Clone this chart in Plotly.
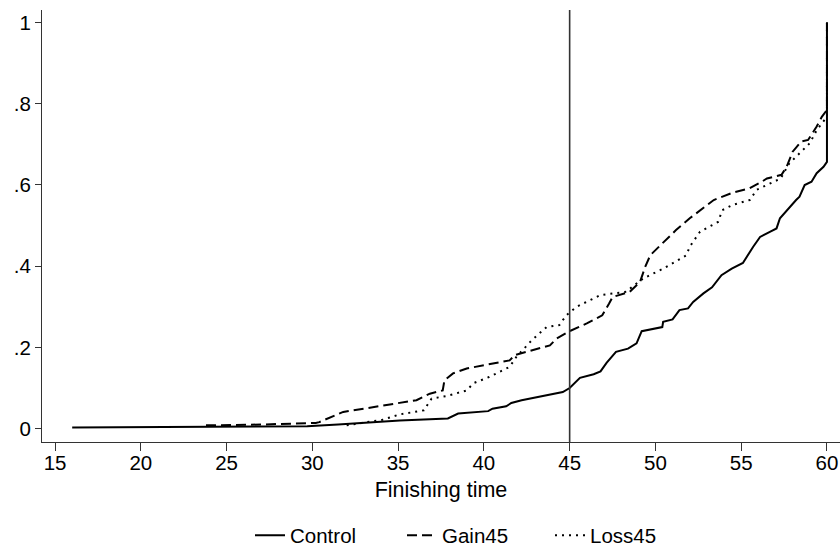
import plotly.graph_objects as go

# Control (solid)
control_x = [16.0, 24.0, 29.7, 31.5, 33.5, 35.1, 37.9, 38.5, 40.25, 40.5, 41.3, 41.6, 42.2, 43.1, 44.6, 45.0,
             45.6, 46.4, 46.8, 47.15, 47.7, 48.4, 48.9, 49.2, 50.4, 50.45, 51.0, 51.4, 51.9, 52.2, 52.8, 53.3,
             53.85, 54.45, 55.1, 55.7, 56.1, 56.7, 57.06, 57.26, 57.74, 58.2, 58.4, 58.7, 59.1, 59.4, 59.8, 60.0, 60.0]
control_y = [0.003, 0.004, 0.006, 0.010, 0.016, 0.020, 0.025, 0.037, 0.043, 0.049, 0.055, 0.063, 0.070, 0.078, 0.090, 0.100,
             0.125, 0.134, 0.141, 0.162, 0.189, 0.197, 0.210, 0.240, 0.250, 0.263, 0.269, 0.292, 0.296, 0.312, 0.333, 0.348,
             0.378, 0.394, 0.408, 0.448, 0.472, 0.485, 0.493, 0.518, 0.542, 0.563, 0.571, 0.600, 0.608, 0.629, 0.645, 0.657, 1.0]

# Gain45 (dashed)
gain_x = [23.8, 27.0, 30.2, 30.4, 31.8, 33.0, 35.1, 36.07, 36.85, 37.6, 37.7, 38.2, 39.0, 40.15, 41.5, 41.8, 42.9, 43.85,
          44.25, 45.0, 46.0, 46.9, 47.3, 47.5, 48.5, 49.1, 49.4, 49.7, 50.4, 51.2, 52.0, 53.2, 53.4, 54.5, 55.5, 56.2,
          56.5, 57.35, 57.65, 58.0, 58.5, 58.9, 59.4, 59.7, 60.0, 60.0]
gain_y = [0.008, 0.010, 0.014, 0.016, 0.041, 0.049, 0.062, 0.070, 0.086, 0.094, 0.119, 0.136, 0.148, 0.158, 0.168, 0.181, 0.193, 0.205,
          0.222, 0.240, 0.259, 0.279, 0.308, 0.324, 0.337, 0.361, 0.398, 0.427, 0.456, 0.489, 0.518, 0.555, 0.563, 0.581, 0.592, 0.608,
          0.616, 0.625, 0.645, 0.682, 0.707, 0.711, 0.744, 0.768, 0.785, 1.0]

# Loss45 (dotted)
loss_x = [32.0, 34.1, 35.1, 36.5, 36.95, 37.8, 39.0, 39.4, 40.3, 41.5, 41.9, 42.8, 43.65, 44.4, 44.8, 45.4, 46.8, 48.3,
          48.7, 49.3, 50.45, 51.8, 52.0, 52.6, 53.65, 53.9, 54.5, 55.5, 55.9, 57.3, 57.8, 58.4, 59.0, 59.4, 59.8, 60.0, 60.0]
loss_y = [0.008, 0.022, 0.035, 0.045, 0.074, 0.080, 0.094, 0.112, 0.127, 0.152, 0.177, 0.218, 0.250, 0.255, 0.279, 0.300, 0.329, 0.337,
          0.351, 0.370, 0.394, 0.427, 0.448, 0.485, 0.509, 0.538, 0.551, 0.563, 0.588, 0.616, 0.653, 0.678, 0.703, 0.735, 0.756, 0.768, 1.0]

x_ticks = [15, 20, 25, 30, 35, 40, 45, 50, 55, 60]
y_ticks = [0, 0.2, 0.4, 0.6, 0.8, 1]
y_ticktext = ["0", ".2", ".4", ".6", ".8", "1"]
vline_x = 45

FONT = "Liberation Sans, Arial, sans-serif"
FS = 20.5

fig = go.Figure()
fig.add_trace(go.Scatter(x=control_x, y=control_y, mode="lines", name="Control", legend="legend",
                         line=dict(color="black", width=2, dash="solid")))
fig.add_trace(go.Scatter(x=gain_x, y=gain_y, mode="lines", name="Gain45", legend="legend2",
                         line=dict(color="black", width=2, dash="10px,5px")))
fig.add_trace(go.Scatter(x=loss_x, y=loss_y, mode="lines", name="Loss45", legend="legend3",
                         line=dict(color="black", width=2, dash="2px,5px")))

fig.add_shape(type="line", xref="x", yref="paper", x0=vline_x, x1=vline_x, y0=0, y1=1,
              line=dict(color="#333333", width=1.6))

LY = 1 - 535.5 / 549
def leg(xpx):
    return dict(orientation="h", xref="container", yref="container", x=xpx / 840, xanchor="left",
                y=LY, yanchor="middle", font=dict(size=FS), bgcolor="rgba(0,0,0,0)")

fig.update_layout(
    width=840, height=549,
    margin=dict(l=42, r=0, t=10, b=107),
    paper_bgcolor="white", plot_bgcolor="white",
    font=dict(family=FONT, size=FS, color="black"),
    showlegend=True,
    legend=leg(250), legend2=leg(402), legend3=leg(550),
    xaxis=dict(range=[14.24, 60.76], tickvals=x_ticks, ticks="outside", ticklen=8, tickwidth=1.2,
               tickcolor="#333", showline=True, linecolor="#333", linewidth=1.2, showgrid=False,
               zeroline=False, automargin=False, ticklabelstandoff=-6,
               title=dict(text="Finishing time", standoff=9, font=dict(size=21.5))),
    yaxis=dict(range=[-0.033, 1.031], tickvals=y_ticks, ticktext=y_ticktext, ticks="outside", ticklen=6,
               tickwidth=1.2, tickcolor="#333", showline=True, linecolor="#333", linewidth=1.2,
               showgrid=False, zeroline=False, automargin=False),
)

fig.write_html("out.html")
